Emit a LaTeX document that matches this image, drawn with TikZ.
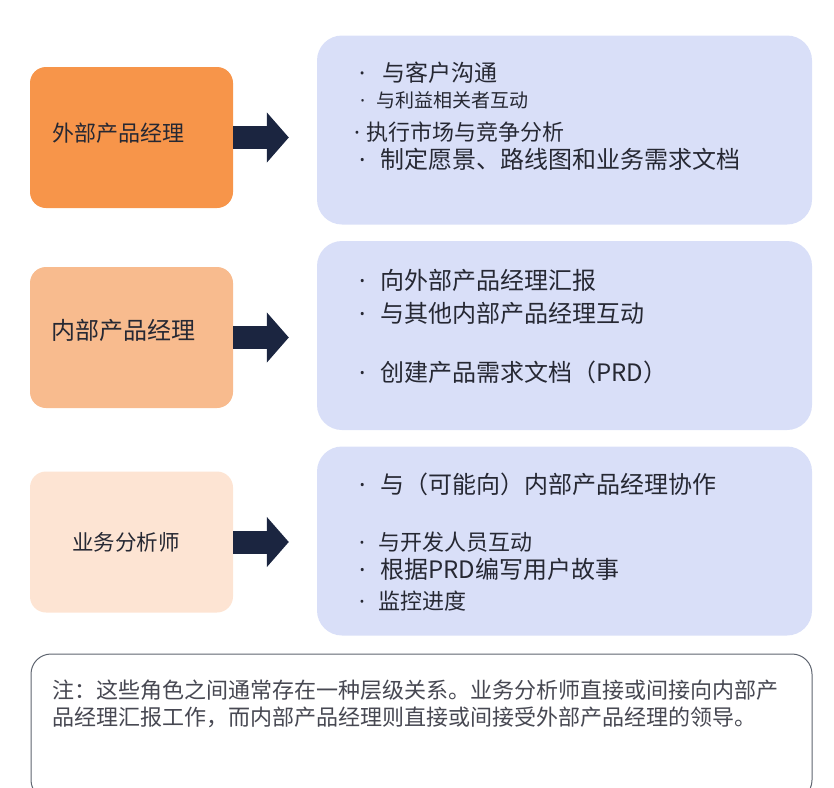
\documentclass[tikz,border=0pt]{standalone}
\usepackage{fontspec}
\setmainfont{Noto Sans CJK SC}
\newfontfamily\dotfont{Noto Sans}
\usetikzlibrary{arrows.meta,calc}
\definecolor{extorange}{HTML}{F7954A}
\definecolor{intorange}{HTML}{F8BB8E}
\definecolor{bapeach}{HTML}{FDE4D3}
\definecolor{lavender}{HTML}{D9DFF8}
\definecolor{navy}{HTML}{1B2540}
\definecolor{ink}{HTML}{262833}
\definecolor{notegrey}{HTML}{5F6570}

\begin{document}
\begin{tikzpicture}[x=1pt,y=-1pt,every node/.style={inner sep=0pt,text=ink},
  rolebox/.style={rectangle,rounded corners=16pt,minimum width=203pt,minimum height=141pt},
  taskbox/.style={rectangle,rounded corners=25pt,fill=lavender,minimum width=495pt,minimum height=189pt},
  navarrow/.style={draw=navy,line width=23pt,-{Triangle[length=22pt,width=49pt]},shorten >=28pt}]
\useasboundingbox(0,0)rectangle(834,787);
% roles on the left
\node[rolebox,fill=extorange](ext)at(131.5,137.5){};
\node[rolebox,fill=intorange](int)at(131.5,337.5){};
\node[rolebox,fill=bapeach](ba)at(131.5,542){};
\node[anchor=west,font=\fontsize{22}{22}\selectfont](extlbl)at(52,133){外部产品经理};
\node[anchor=west,font=\fontsize{24}{24}\selectfont](intlbl)at(51,330){内部产品经理};
\node[anchor=west,font=\fontsize{21.5}{22}\selectfont](balbl)at(72,542){业务分析师};
% duties on the right
\node[taskbox](extw)at(564.5,130){};
\node[taskbox](intw)at(564.5,335.5){};
\node[taskbox](baw)at(564.5,541){};
\foreach \bx/\y/\g/\s/\t in {359/73/23/23/与客户沟通,360/100/16/19/与利益相关者互动,
  354/132/12/22/执行市场与竞争分析,359/159/21/24/制定愿景、路线图和业务需求文档,
  359/280/21/24/向外部产品经理汇报,359/313/21/24/与其他内部产品经理互动,
  359/372/21/24/创建产品需求文档（PRD）,
  359/484/21/24/与（可能向）内部产品经理协作,359/542/19/22/与开发人员互动,
  359/569/21/24/根据PRD编写用户故事,359/601/19/22/监控进度}
{\node[anchor=west,font=\fontsize{\s}{\s}\selectfont](item\y)at(\bx,\y){\makebox[\g pt][l]{\dotfont ·}\t};}
\foreach \x/\y in {ext/extw,int/intw,ba/baw}
{\draw[navarrow](\x.east)--(\x.east-|\y.west);}
% note at the bottom
\node[rectangle,rounded corners=20pt,draw=notegrey,line width=1pt,fill=white,
  minimum width=781pt,minimum height=146pt](note)at(421.5,727){};
\node[anchor=north west,align=left,text=ink!85,font=\fontsize{22}{26.5}\selectfont](notetxt)at(52,680)
{注：这些角色之间通常存在一种层级关系。业务分析师直接或间接向内部产\\品经理汇报工作，而内部产品经理则直接或间接受外部产品经理的领导。};
\end{tikzpicture}
\end{document}
